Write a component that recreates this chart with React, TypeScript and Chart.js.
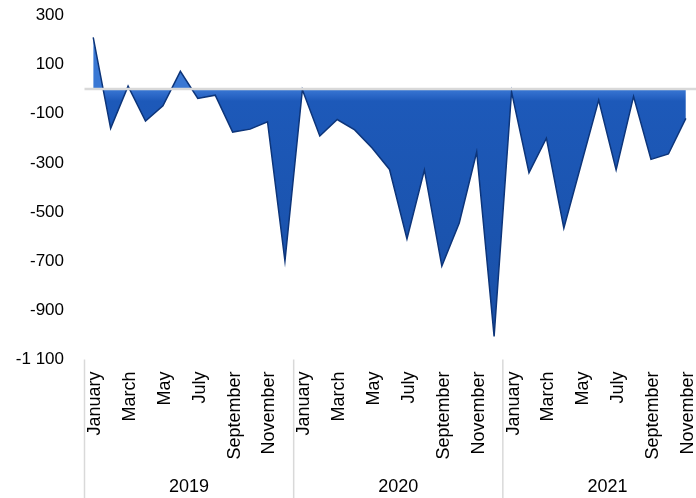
import React, { useEffect, useRef } from 'react';
import { Chart, registerables } from 'chart.js';

Chart.register(...registerables);

const years = ['2019', '2020', '2021'];
const monthNames = ['January', 'February', 'March', 'April', 'May', 'June', 'July', 'August', 'September', 'October', 'November', 'December'];
const values2019 = [210, -160, 12, -130, -68, 72, -38, -25, -175, -163, -133, -700];
const values2020 = [-3, -191, -124, -166, -240, -327, -610, -329, -720, -545, -256, -1006];
const values2021 = [-11, -340, -200, -566, -305, -45, -329, -30, -286, -264, -119];
const yMin = -1100;
const yMax = 300;
const yStep = 200;

const fmt = (v: number) => {
  const neg = v < 0;
  const s = Math.abs(v).toString().replace(/\B(?=(\d{3})+(?!\d))/g, ' ');
  return (neg ? '-' : '') + s;
};

const FONT = "'Liberation Sans', Arial, sans-serif";

const decorPlugin = {
  id: 'decor',
  afterDatasetsDraw(chart: any) {
    const { ctx, chartArea, scales } = chart;
    const y0 = scales.y.getPixelForValue(0);
    ctx.save();
    ctx.strokeStyle = '#d9d9d9';
    ctx.lineWidth = 2.5;
    ctx.beginPath();
    ctx.moveTo(chartArea.left, y0);
    ctx.lineTo(chartArea.right, y0);
    ctx.stroke();
    ctx.restore();
  },
  afterDraw(chart: any) {
    const { ctx, chartArea, scales } = chart;
    const x = scales.x;
    const bottom = chart.height;
    ctx.save();
    ctx.strokeStyle = '#d9d9d9';
    ctx.lineWidth = 1.5;
    const bounds: number[] = [chartArea.left];
    for (let g = 1; g < years.length; g++) {
      const i = g * 12;
      bounds.push((x.getPixelForValue(i - 1) + x.getPixelForValue(i)) / 2);
    }
    bounds.push(chartArea.right);
    bounds.forEach((bx) => {
      ctx.beginPath();
      ctx.moveTo(bx, chartArea.bottom);
      ctx.lineTo(bx, bottom);
      ctx.stroke();
    });
    ctx.fillStyle = '#000';
    ctx.font = `18px ${FONT}`;
    ctx.textAlign = 'center';
    ctx.textBaseline = 'middle';
    years.forEach((yr, g) => {
      const cx = (bounds[g] + bounds[g + 1]) / 2;
      ctx.fillText(yr, cx, 487);
    });
    ctx.restore();
  },
};

export default function App() {
  const ref = useRef<HTMLCanvasElement | null>(null);
  useEffect(() => {
    if (!ref.current) return;
    const labels: string[] = [];
    years.forEach((yr) => monthNames.forEach((m) => labels.push(`${m} ${yr}`)));
    const data = [...values2019, ...values2020, ...values2021];
    const chart = new Chart(ref.current, {
      type: 'line',
      data: {
        labels,
        datasets: [
          {
            data,
            fill: 'origin',
            tension: 0,
            pointRadius: 0,
            borderWidth: 1.5,
            borderColor: '#0d357a',
            backgroundColor: (c: any) => {
              const ch = c.chart;
              const area = ch.chartArea;
              if (!area) return '#1e5abe';
              const y0 = ch.scales.y.getPixelForValue(0);
              const g = ch.ctx.createLinearGradient(0, y0, 0, area.bottom);
              g.addColorStop(0, '#3a78d4');
              g.addColorStop(0.025, '#2a66c6');
              g.addColorStop(0.045, '#1d59b9');
              g.addColorStop(1, '#194fa5');
              return g;
            },
          },
        ],
      },
      options: {
        responsive: false,
        animation: false,
        layout: { padding: { top: 15.3, right: 8.7, bottom: 0, left: 0 } },
        plugins: {
          legend: { display: false },
          tooltip: { enabled: false },
          title: { display: false },
        },
        scales: {
          x: {
            type: 'category',
            offset: true,
            grid: { display: false, drawTicks: false },
            border: { display: false },
            ticks: {
              autoSkip: false,
              maxRotation: 90,
              minRotation: 90,
              padding: 12,
              labelOffset: 2,
              color: '#000',
              font: { size: 18, family: FONT },
              callback: (_v: any, i: number) => (i % 2 === 0 ? monthNames[i % 12] : ''),
            },
            afterFit: (s: any) => {
              s.height = 138.5;
            },
          },
          y: {
            min: yMin,
            max: yMax,
            grid: { display: false, drawTicks: false },
            border: { display: false },
            ticks: {
              stepSize: yStep,
              padding: 20.5,
              color: '#000',
              font: { size: 17, family: FONT },
              callback: (v: any) => fmt(Number(v)),
            },
            afterFit: (s: any) => {
              s.width = 84.5;
              s.paddingTop = 0;
              s.paddingBottom = 0;
            },
          },
        },
      },
      plugins: [decorPlugin],
    });
    return () => chart.destroy();
  }, []);
  return (
    <div style={{ position: 'fixed', left: 0, top: 0, width: 696, height: 498, overflow: 'hidden', background: '#fff' }}>
      <canvas ref={ref} width={737} height={498} style={{ display: 'block' }} />
    </div>
  );
}
